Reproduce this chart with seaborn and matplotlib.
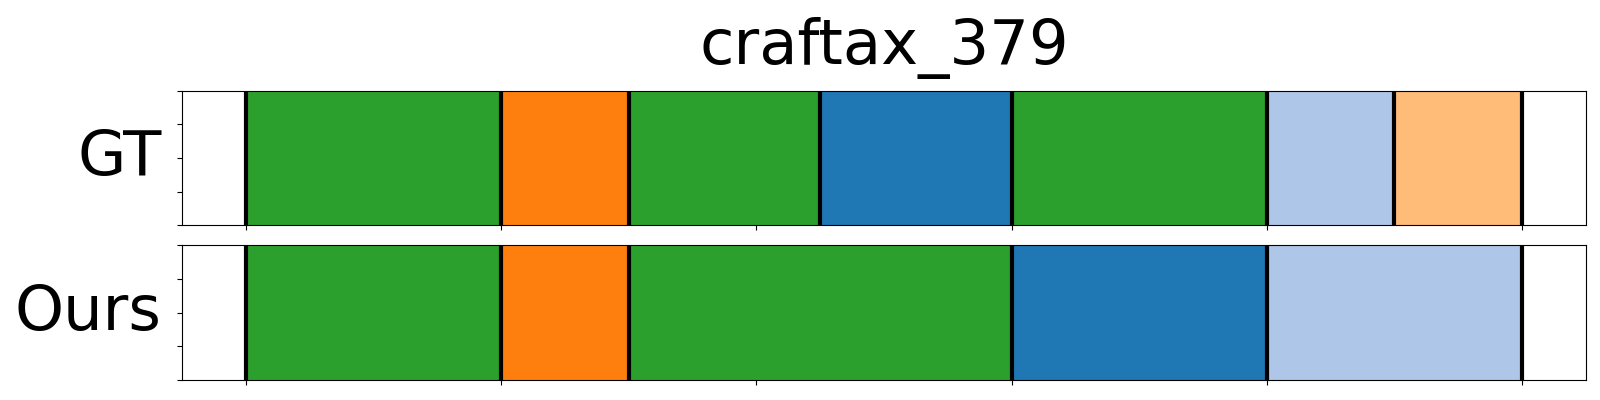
import numpy as np
import matplotlib
matplotlib.use("Agg")
import matplotlib.pyplot as plt
import seaborn as sns

# segment data: start, end, class id (index into tab20)
gt_start = [0, 100, 150, 225, 300, 400, 450]
gt_end = [100, 150, 225, 300, 400, 450, 500]
gt_cls = [4, 2, 4, 0, 4, 1, 3]

ours_start = [0, 100, 150, 300, 400]
ours_end = [100, 150, 300, 400, 500]
ours_cls = [4, 2, 4, 0, 1]

rows = ["GT", "Ours"]
title = "craftax_379"

palette = sns.color_palette("tab20")

fig, axes = plt.subplots(2, 1, figsize=(16, 4), dpi=100)
plt.subplots_adjust(left=0.114, right=0.991, top=0.773, bottom=0.05, hspace=0.149)

data = [(gt_start, gt_end, gt_cls), (ours_start, ours_end, ours_cls)]
for ax, name, (starts, ends, cls) in zip(axes, rows, data):
    starts = np.array(starts)
    ends = np.array(ends)
    ax.barh(0.5, ends - starts, left=starts, height=1.0,
            color=[palette[c] for c in cls], linewidth=0)
    # boundaries between segments
    for b in sorted(set(starts) | set(ends)):
        ax.axvline(b, color="black", linewidth=3)
    ax.set_xlim(-25, 525)
    ax.set_ylim(0, 1)
    ax.set_xticks(np.arange(0, 501, 100))
    ax.set_xticklabels([])
    ax.set_yticks(np.linspace(0, 1, 5))
    ax.set_yticklabels([])
    ax.set_ylabel(name, fontsize=45, rotation=0, ha="right", va="center", labelpad=8)

axes[0].set_title(title, fontsize=45, pad=19)

plt.savefig("out.png", dpi=100)
